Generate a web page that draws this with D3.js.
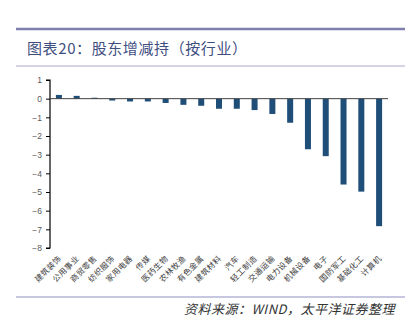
<!DOCTYPE html>
<html><head><meta charset="utf-8">
<script src="https://cdn.jsdelivr.net/npm/d3@7"></script>
<style>body{margin:0;background:#fff;}svg{display:block;}</style>
</head><body>
<script>
const categories = ["建筑装饰","公用事业","商贸零售","纺织服饰","家用电器","传媒","医药生物","农林牧渔","有色金属","建筑材料","汽车","轻工制造","交通运输","电力设备","机械设备","电子","国防军工","基础化工","计算机"];
const values = [0.2,0.15,0.05,-0.1,-0.15,-0.15,-0.23,-0.33,-0.38,-0.54,-0.54,-0.61,-0.82,-1.29,-2.71,-3.08,-4.6,-4.98,-6.83];
const yTicks = [1,0,-1,-2,-3,-4,-5,-6,-7,-8];
const titleText = "图表20：股东增减持（按行业）";
const sourceText = "资料来源：WIND，太平洋证券整理";

const W = 416, H = 324;
const svg = d3.select("body").append("svg").attr("width", W).attr("height", H);

// header lines
svg.append("line").attr("x1",16).attr("x2",405).attr("y1",29).attr("y2",29).attr("stroke","#7f7fae").attr("stroke-width",2.5);
svg.append("line").attr("x1",16).attr("x2",405).attr("y1",66).attr("y2",66).attr("stroke","#a9a9cc").attr("stroke-width",1);
svg.append("text").attr("x",27).attr("y",54).text(titleText)
  .attr("font-family","'Noto Sans CJK SC', sans-serif").attr("font-size",15).attr("fill","#3f4f7f").attr("letter-spacing",0.6);

const y = d3.scaleLinear().domain([-8, 1]).range([248, 80]);
const xb = d3.scaleBand().domain(categories).range([50,388]);

// y axis
const yAxis = d3.axisLeft(y).tickValues(yTicks).tickSize(4).tickFormat(d3.format("d"));
const gy = svg.append("g").attr("transform","translate(50,0)").call(yAxis);
gy.select(".domain").attr("stroke","#000").attr("stroke-width",1.2).attr("d","M-4,"+y(1)+"H0V"+y(-8)+"H-4");
gy.selectAll(".tick line").attr("stroke","#000");
gy.selectAll(".tick text").attr("fill","#595959").attr("font-family","'Liberation Sans', Arial, sans-serif").attr("font-size",8.5).attr("x",-8);

// bars
svg.append("g").selectAll("rect").data(values).join("rect")
  .attr("x",(d,i)=>xb(categories[i]) + xb.bandwidth()/2 - 3)
  .attr("width",6)
  .attr("y",d=>y(Math.max(0,d)))
  .attr("height",d=>Math.abs(y(d)-y(0)))
  .attr("fill","#1f4e79");

// zero line
svg.append("line").attr("x1",50).attr("x2",388).attr("y1",y(0)).attr("y2",y(0)).attr("stroke","#404040").attr("stroke-width",1);

// x labels
svg.append("g").selectAll("text").data(categories).join("text")
  .attr("transform",(d)=>`translate(${xb(d)+xb.bandwidth()/2+3},259) rotate(-45)`)
  .attr("text-anchor","end")
  .attr("font-family","'Noto Sans CJK SC', sans-serif").attr("font-size",8).attr("fill","#404040").attr("letter-spacing",0.4)
  .text(d=>d);

// bottom line and source
svg.append("line").attr("x1",16).attr("x2",405).attr("y1",297).attr("y2",297).attr("stroke","#b4b4d4").attr("stroke-width",1.5);
svg.append("text").attr("x",395).attr("y",314).attr("text-anchor","end").text(sourceText)
  .attr("font-family","'Noto Sans CJK SC', sans-serif").attr("font-size",13).attr("font-style","italic").attr("fill","#333").attr("letter-spacing",0.5);
</script>
</body></html>
